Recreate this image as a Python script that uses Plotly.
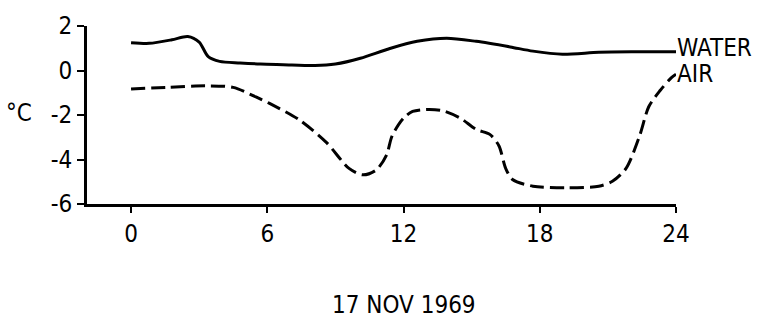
import plotly.graph_objects as go

# Hour of day, 17 Nov 1969
water_hours = [0.0, 0.8, 1.8, 2.5, 3.0, 3.4, 3.9, 4.8, 5.7, 6.7, 8.1, 9.0, 10.1,
               11.4, 12.6, 13.9, 15.2, 16.7, 17.7, 19.0, 20.6, 22.1, 24.0]
water_temp = [1.25, 1.22, 1.38, 1.53, 1.28, 0.62, 0.41, 0.34, 0.29, 0.26, 0.22, 0.29, 0.55,
              0.99, 1.31, 1.45, 1.31, 1.06, 0.87, 0.73, 0.82, 0.84, 0.84]

air_hours = [0.0, 1.6, 3.3, 4.5, 5.5, 6.1, 7.4, 8.6, 9.6, 10.2, 10.8, 11.25, 11.5,
             12.0, 12.4, 13.0, 13.7, 14.5, 15.2, 15.8, 16.2, 16.5, 16.8, 17.7,
             19.2, 20.6, 21.2, 21.8, 22.4, 22.8, 23.3, 23.8, 24.0]
air_temp = [-0.83, -0.76, -0.69, -0.76, -1.19, -1.48, -2.21, -3.23, -4.4, -4.69, -4.47, -3.8, -2.93,
            -2.14, -1.84, -1.75, -1.8, -2.14, -2.65, -2.87, -3.38, -4.4, -4.9, -5.2,
            -5.27, -5.2, -4.98, -4.4, -2.93, -1.63, -0.9, -0.32, -0.17]

x_ticks = [0, 6, 12, 18, 24]
y_ticks = [2, 0, -2, -4, -6]
y_tick_text = ["2", "0", "-2", "-4", "-6"]

FONT = "DejaVu Sans Condensed, DejaVu Sans"
SIZE = 24

fig = go.Figure()
fig.add_trace(go.Scatter(
    x=water_hours, y=water_temp, mode="lines", name="WATER",
    line=dict(color="black", width=3, shape="spline", smoothing=0.8),
))
fig.add_trace(go.Scatter(
    x=air_hours, y=air_temp, mode="lines", name="AIR",
    line=dict(color="black", width=3, shape="spline", smoothing=0.8, dash="14px,6px"),
))

fig.update_layout(
    width=769, height=321,
    margin=dict(l=87, r=93, t=20, b=117),
    paper_bgcolor="white", plot_bgcolor="white",
    showlegend=False,
    font=dict(family=FONT, size=SIZE, color="black"),
    xaxis=dict(
        range=[-1.94, 24], tickvals=x_ticks, ticktext=[str(v) for v in x_ticks],
        showgrid=False, zeroline=False, showline=True, linecolor="black", linewidth=3,
        ticks="outside", ticklen=6, tickwidth=2, tickcolor="black",
        tickfont=dict(family=FONT, size=SIZE),
    ),
    yaxis=dict(
        range=[-6, 2], tickvals=y_ticks, ticktext=y_tick_text,
        showgrid=False, zeroline=False, showline=True, linecolor="black", linewidth=3,
        ticks="outside", ticklen=7, tickwidth=2, tickcolor="black",
        tickfont=dict(family=FONT, size=SIZE),
    ),
)

fig.add_annotation(text="°C", xref="paper", yref="y", x=-0.115, y=-2,
                   xanchor="center", yanchor="middle", yshift=2, showarrow=False,
                   font=dict(family=FONT, size=SIZE))
fig.add_annotation(text="WATER", xref="x", yref="y", x=24, y=water_temp[-1],
                   xanchor="left", yanchor="middle", xshift=-1, yshift=4, showarrow=False,
                   font=dict(family=FONT, size=SIZE))
fig.add_annotation(text="AIR", xref="x", yref="y", x=24, y=-0.35,
                   xanchor="left", yanchor="middle", xshift=-1, yshift=4, showarrow=False,
                   font=dict(family=FONT, size=SIZE))
fig.add_annotation(text="17 NOV 1969", xref="x", yref="paper", x=12, y=-0.57,
                   xanchor="center", yanchor="middle", showarrow=False,
                   font=dict(family=FONT, size=SIZE))

fig.write_html("out.html")
